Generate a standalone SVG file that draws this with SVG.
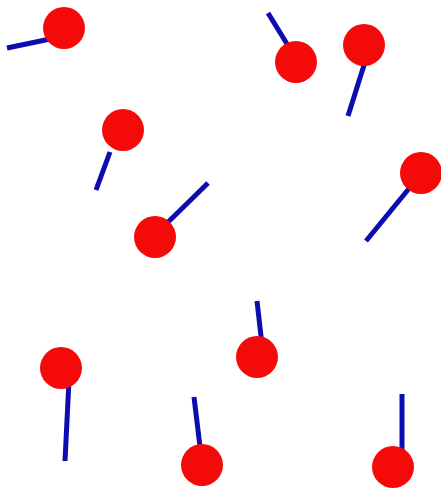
<svg xmlns="http://www.w3.org/2000/svg" width="441" height="490" viewBox="0 0 441 490">
<style>
.rod{stroke:#0c0cb0;stroke-width:5;stroke-linecap:butt}
.bob{fill:#f50a0a}
</style>
<rect width="441" height="490" fill="#fff"/>
<g id="p1"><line class="rod" x1="7" y1="48" x2="55" y2="38"/><circle class="bob" cx="64" cy="28" r="21"/></g>
<g id="p2"><line class="rod" x1="110" y1="152" x2="96" y2="190"/><circle class="bob" cx="123" cy="130" r="21"/></g>
<g id="p3"><line class="rod" x1="160" y1="230" x2="208" y2="183"/><circle class="bob" cx="155" cy="237" r="21"/></g>
<g id="p4"><line class="rod" x1="268" y1="13" x2="292" y2="52"/><circle class="bob" cx="296" cy="62" r="21"/></g>
<g id="p5"><line class="rod" x1="365" y1="62" x2="348" y2="116"/><circle class="bob" cx="364" cy="45" r="21"/></g>
<g id="p6"><line class="rod" x1="416" y1="180" x2="366" y2="241"/><circle class="bob" cx="421" cy="173" r="21"/></g>
<g id="p7"><line class="rod" x1="69" y1="380" x2="65" y2="461"/><circle class="bob" cx="61" cy="368" r="21"/></g>
<g id="p8"><line class="rod" x1="194" y1="397" x2="201" y2="455"/><circle class="bob" cx="202" cy="465" r="21"/></g>
<g id="p9"><line class="rod" x1="257" y1="301" x2="262" y2="345"/><circle class="bob" cx="257" cy="357" r="21"/></g>
<g id="p10"><line class="rod" x1="402" y1="394" x2="402" y2="450"/><circle class="bob" cx="393" cy="467" r="21"/></g>
</svg>
